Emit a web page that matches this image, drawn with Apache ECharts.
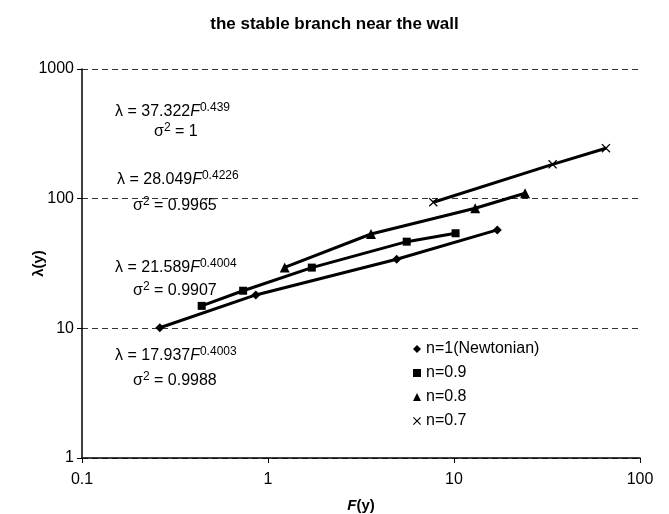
<!DOCTYPE html>
<html>
<head>
<meta charset="utf-8">
<script src="https://cdn.jsdelivr.net/npm/echarts@6/dist/echarts.min.js"></script>
<style>
	html, body { margin: 0; padding: 0; background: #fff; }
	#chart { width: 669px; height: 514px; }
</style>
</head>
<body>
<div id="chart"></div>
<script>
// values (F, lambda)
const n10F = [0.262, 0.86, 4.92, 17.1]
const n10L = [10.1, 18.1, 34.1, 57.4]
const n09F = [0.44, 0.735, 1.72, 5.57, 10.2]
const n09L = [14.9, 19.5, 29.4, 46.6, 54.1]
const n08F = [1.23, 3.58, 13.0, 24.1]
const n08L = [29.5, 53.4, 84.3, 110]
const n07F = [7.74, 33.9, 65.6]
const n07L = [93.8, 184, 245]

const seriesNames = ["n=1(Newtonian)", "n=0.9", "n=0.8", "n=0.7"]
const crossPath = "path://M0,1L1,0L5,4L9,0L10,1L6,5L10,9L9,10L5,6L1,10L0,9L4,5Z"
const symbols = ["diamond", "rect", "triangle", crossPath]
const symbolSizes = [9, 8, 10, 9]

// fit annotations: [coef, exponent, sigma^2]
const fits = [
	["37.322", "0.439", "1"],
	["28.049", "0.4226", "0.9965"],
	["21.589", "0.4004", "0.9907"],
	["17.937", "0.4003", "0.9988"],
]

const pairs = [
	[n10F, n10L],
	[n09F, n09L],
	[n08F, n08L],
	[n07F, n07L],
]

const font = "Liberation Sans, Arial, sans-serif"

// left / vertical centre of each annotation line
const fitPos = [
	[[115, 112], [154, 132]],
	[[117, 180], [133, 206]],
	[[115, 268], [133, 291]],
	[[115, 356], [133, 381]],
]

const rich = {
	a: { fontSize: 16, fontFamily: font, color: "#000", lineHeight: 20 },
	i: { fontSize: 16, fontFamily: font, color: "#000", fontStyle: "italic", lineHeight: 20 },
	s: { fontSize: 12, fontFamily: font, color: "#000", verticalAlign: "top", lineHeight: 20 },
}

const graphics = []
fits.forEach((f, i) => {
	graphics.push({
		type: "text",
		x: fitPos[i][0][0],
		y: fitPos[i][0][1],
		style: {
			text: "{a|λ = " + f[0] + "}{i|F}{s|" + f[1] + "}",
			verticalAlign: "middle",
			rich: rich,
		},
	})
	graphics.push({
		type: "text",
		x: fitPos[i][1][0],
		y: fitPos[i][1][1],
		style: {
			text: "{a|σ}{s|2}{a| = " + f[2] + "}",
			verticalAlign: "middle",
			rich: rich,
		},
	})
})

const option = {
	backgroundColor: "#fff",
	animation: false,
	title: {
		text: "the stable branch near the wall",
		left: "center",
		top: 11,
		textStyle: { fontFamily: font, fontSize: 17, fontWeight: "bold", color: "#000" },
	},
	grid: { left: 82, right: 29, top: 69, bottom: 56, outerBoundsMode: "none" },
	legend: {
		orient: "vertical",
		left: 408,
		top: 335,
		itemWidth: 8,
		itemHeight: 8,
		itemGap: 6,
		textStyle: { fontFamily: font, fontSize: 16, color: "#000", lineHeight: 18 },
		data: seriesNames.map((n, i) => ({ name: n, icon: symbols[i] })),
	},
	xAxis: {
		type: "log",
		min: 0.1,
		max: 100,
		logBase: 10,
		name: "{i|F}{b|(y)}",
		nameLocation: "middle",
		nameGap: 40,
		nameMoveOverlap: false,
		nameTextStyle: {
			rich: {
				i: { fontFamily: font, fontSize: 15, fontWeight: "bold", fontStyle: "italic", color: "#000" },
				b: { fontFamily: font, fontSize: 15, fontWeight: "bold", color: "#000" },
			},
		},
		axisLine: { lineStyle: { color: "#000", width: 1.5 } },
		axisTick: { show: true, length: 5, lineStyle: { color: "#000" } },
		minorTick: { show: false },
		axisLabel: { fontFamily: font, fontSize: 16, color: "#000", margin: 14 },
		splitLine: { show: false },
	},
	yAxis: {
		type: "log",
		min: 1,
		max: 1000,
		logBase: 10,
		name: "λ(y)",
		nameLocation: "middle",
		nameGap: 36,
		nameMoveOverlap: false,
		nameTextStyle: { fontFamily: font, fontSize: 15, fontWeight: "bold", color: "#000" },
		axisLine: { show: true, lineStyle: { color: "#000", width: 1.5 } },
		axisTick: { show: true, length: 5, lineStyle: { color: "#000" } },
		minorTick: { show: false },
		axisLabel: {
			fontFamily: font,
			fontSize: 16,
			color: "#000",
			margin: 8,
			formatter: (v) => String(v),
		},
		splitLine: { show: true, lineStyle: { color: "#333", type: [6, 4], width: 1 } },
	},
	graphic: graphics,
	series: pairs.map((p, i) => ({
		name: seriesNames[i],
		type: "line",
		symbol: symbols[i],
		symbolSize: symbolSizes[i],
		showAllSymbol: true,
		lineStyle: { color: "#000", width: 3 },
		itemStyle: { color: "#000" },
		data: p[0].map((x, j) => [x, p[1][j]]),
	})),
}

const chart = echarts.init(document.getElementById("chart"))
chart.setOption(option)
</script>
</body>
</html>
